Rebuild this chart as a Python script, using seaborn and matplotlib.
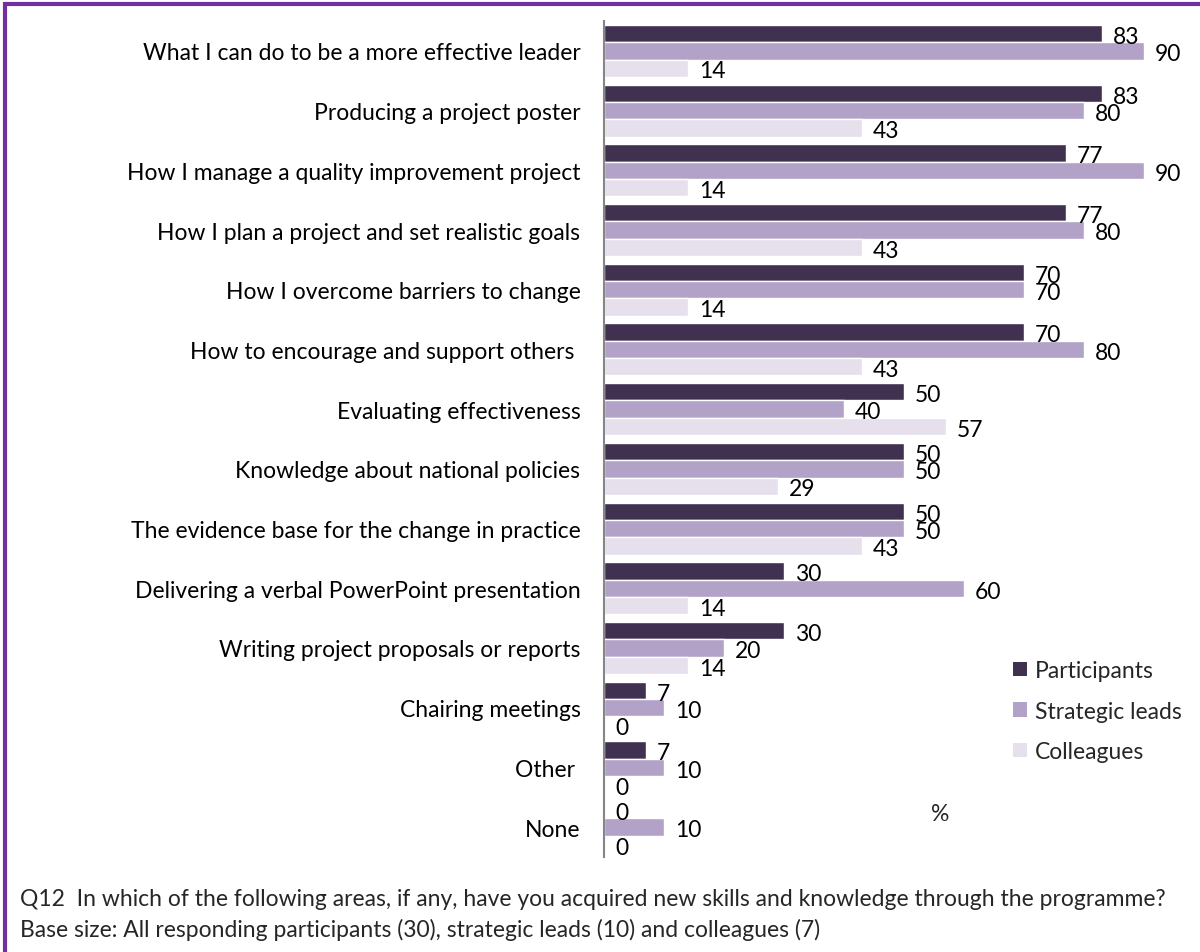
import matplotlib
matplotlib.use("Agg")
import matplotlib.pyplot as plt
from matplotlib.patches import Rectangle, Patch
from matplotlib.ticker import FixedLocator
import seaborn as sns
import pandas as pd

categories = [
    "What I can do to be a more effective leader",
    "Producing a project poster",
    "How I manage a quality improvement project",
    "How I plan a project and set realistic goals",
    "How I overcome barriers to change",
    "How to encourage and support others ",
    "Evaluating effectiveness",
    "Knowledge about national policies",
    "The evidence base for the change in practice",
    "Delivering a verbal PowerPoint presentation",
    "Writing project proposals or reports",
    "Chairing meetings",
    "Other ",
    "None",
]
participants = [83, 83, 77, 77, 70, 70, 50, 50, 50, 30, 30, 7, 7, 0]
strategic_leads = [90, 80, 90, 80, 70, 80, 40, 50, 50, 60, 20, 10, 10, 10]
colleagues = [14, 43, 14, 43, 14, 43, 57, 29, 43, 14, 14, 0, 0, 0]
groups = ["Participants", "Strategic leads", "Colleagues"]
colors = ["#403151", "#B3A2C7", "#E6E0EC"]

df = pd.DataFrame({
    "area": categories * 3,
    "value": participants + strategic_leads + colleagues,
    "group": [g for g in groups for _ in categories],
})

sns.set_theme(style="white")
plt.rcParams["font.family"] = ["Lato", "DejaVu Sans"]
FS = 16.5

fig = plt.figure(figsize=(12, 9.53), dpi=100)
ax = fig.add_axes([604 / 1200, 1 - 858 / 953, 588 / 1200, (858 - 22) / 953])

sns.barplot(data=df, y="area", x="value", hue="group", order=categories,
            hue_order=groups, palette=colors, orient="h", width=0.87,
            saturation=1, legend=False, ax=ax)

for cont in ax.containers:
    labels = ax.bar_label(cont, fmt="%g", padding=8, fontsize=FS, color="black")
    for t in labels:
        t.xyann = (8, -2)

ax.set_xlim(0, 98)
ax.set_ylim(len(categories) - 0.5, -0.5)
ax.set_xlabel("")
ax.set_ylabel("")
ax.set_xticks([])
ax.tick_params(axis="y", which="major", length=0, pad=17, labelsize=FS,
               labelcolor="black")
ax.yaxis.set_minor_locator(FixedLocator([i - 0.5 for i in range(len(categories) + 1)]))
ax.tick_params(axis="y", which="minor", length=6, width=1.2, color="#868686",
               direction="out")
for side in ["top", "right", "bottom"]:
    ax.spines[side].set_visible(False)
ax.spines["left"].set_color("#868686")
ax.spines["left"].set_linewidth(1.5)

handles = [Patch(facecolor=c, edgecolor="none") for c in colors]
fig.legend(handles, groups, loc="upper left", bbox_to_anchor=(1004 / 1200, 1 - 652 / 953),
           frameon=False, fontsize=FS, handlelength=0.6, handleheight=0.6,
           handletextpad=0.35, labelspacing=0.85, borderaxespad=0)

fig.text(940 / 1200, 1 - 815 / 953, "%", fontsize=FS, ha="center", va="center")
fig.text(20 / 1200, 1 - 900 / 953,
         "Q12  In which of the following areas, if any, have you acquired new skills and knowledge through the programme?",
         fontsize=FS, ha="left", va="center")
fig.text(20 / 1200, 1 - 930 / 953,
         "Base size: All responding participants (30), strategic leads (10) and colleagues (7)",
         fontsize=FS, ha="left", va="center")

fig.patches.append(Rectangle((5 / 1200, -0.05), 1.2, 1 - 5 / 953 + 0.05,
                             transform=fig.transFigure, fill=False,
                             edgecolor="#7030A0", linewidth=3))

fig.savefig("out.png", dpi=100)
